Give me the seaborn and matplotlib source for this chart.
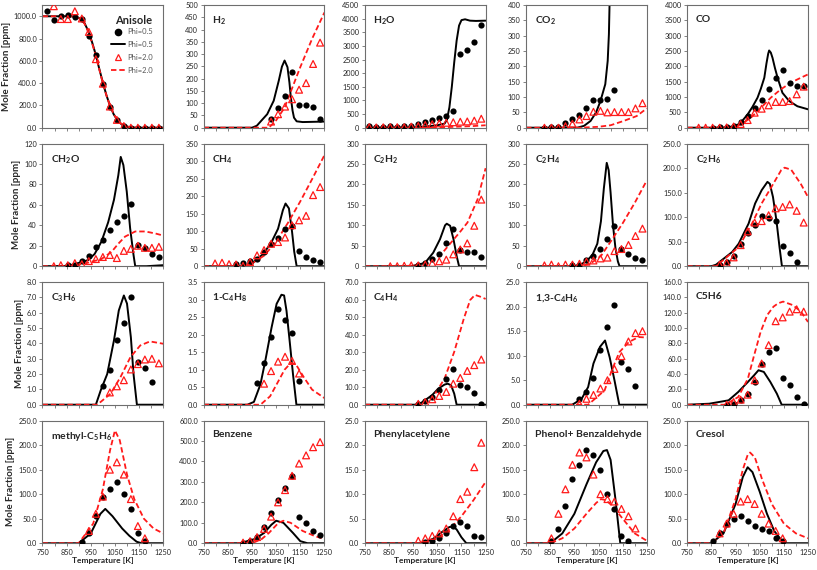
import numpy as np
import pandas as pd
import matplotlib
matplotlib.use("Agg")
import matplotlib.pyplot as plt
import seaborn as sns
from matplotlib.lines import Line2D
from matplotlib.ticker import MultipleLocator, FixedLocator, FormatStrFormatter

N = np.nan

# ── Experimental temperatures (K) ────────────────────────────────────────────
T_EXP = [768, 797, 826, 855, 884, 913, 942, 971, 1000, 1029, 1058, 1087, 1116, 1145, 1174, 1203, 1232]
X_MAJOR = [750, 850, 950, 1050, 1150, 1250]
X_MINOR = [800, 900, 1000, 1100, 1200]

# ── Row 1 ────────────────────────────────────────────────────────────────────
ani_p05 = [1045, 970, 1000, 1015, 995, 980, 820, 655, 395, 190, 70, 15, 0, 0, 0, 0, 0]
ani_p20 = [N, 1090, 975, 975, 1045, 980, 860, 615, 395, 190, 70, 15, 0, 0, 0, 0, 0]
ani_T05 = [750, 870, 895, 910, 925, 940, 955, 970, 985, 1000, 1015, 1030, 1045, 1060, 1075, 1090, 1110, 1130, 1160, 1250]
ani_m05 = [1000, 1000, 990, 975, 935, 865, 770, 660, 530, 405, 290, 195, 120, 68, 35, 15, 5, 1, 0, 0]
ani_T20 = [750, 870, 895, 910, 925, 940, 955, 970, 985, 1000, 1015, 1030, 1045, 1060, 1075, 1090, 1110, 1130, 1160, 1250]
ani_m20 = [1000, 1000, 990, 972, 930, 858, 762, 652, 525, 400, 288, 195, 122, 70, 37, 17, 6, 1, 0, 0]

h2_p05 = [N, N, N, N, N, N, N, N, N, 34, 82, 130, 229, 92, 92, 86, 34]
h2_p20 = [N, N, N, N, N, N, N, N, N, 25, 55, 86, 116, 155, 182, 260, 347]
h2_T05 = [750, 950, 970, 990, 1013, 1040, 1061, 1074, 1085, 1097, 1105, 1111, 1118, 1124, 1135, 1160, 1250]
h2_m05 = [0, 0, 8, 30, 55, 110, 192, 249, 274, 247, 185, 123, 70, 41, 26, 23, 25]
h2_T20 = [750, 1020, 1050, 1085, 1150, 1200, 1250]
h2_m20 = [0, 0, 30, 82, 247, 365, 470]

h2o_p05 = [60, 30, 40, 45, 35, 60, 70, 150, 220, 300, 345, 430, 615, 2710, 2860, 3145, 3785]
h2o_p20 = [20, 10, 15, 20, 20, 20, 40, 60, 100, 130, 160, 180, 200, 220, 230, 260, 330]
h2o_T05 = [750, 950, 1000, 1050, 1080, 1090, 1100, 1110, 1120, 1130, 1140, 1150, 1165, 1185, 1210, 1250]
h2o_m05 = [0, 10, 40, 90, 150, 300, 750, 1500, 2400, 3200, 3750, 3950, 3980, 3930, 3920, 3930]
h2o_T20 = [750, 1000, 1100, 1200, 1250]
h2o_m20 = [0, 5, 25, 60, 90]

co2_p05 = [N, N, 0, 2, 2, 14, 27, 40, 65, 89, 92, 95, 122, N, N, N, N]
co2_p20 = [N, N, 0, 0, 0, 5, 13, 27, 38, 52, 55, 50, 51, 51, 51, 63, 80]
co2_T05 = [750, 962, 990, 1017, 1040, 1058, 1078, 1088, 1093, 1096, 1098]
co2_m05 = [0, 0, 6, 22, 50, 87, 142, 218, 305, 414, 600]
co2_T20 = [750, 980, 1000, 1050, 1100, 1154, 1208, 1250]
co2_m20 = [0, 0, 1, 3, 8, 22, 38, 63]

co_p05 = [N, N, N, 5, 10, 25, 70, 170, 380, 630, 900, 1270, 1620, 1870, 1470, 1370, 1350]
co_p20 = [N, 0, 0, 0, 0, 10, 40, 120, 250, 490, 620, 730, 840, 840, 870, 1090, 1340]
co_T05 = [750, 900, 940, 968, 1000, 1020, 1041, 1055, 1069, 1078, 1085, 1089, 1096, 1103, 1113, 1124, 1144, 1172, 1206, 1250]
co_m05 = [0, 0, 40, 130, 435, 680, 980, 1280, 1630, 2100, 2410, 2520, 2450, 2280, 1950, 1630, 1140, 870, 700, 600]
co_T20 = [750, 940, 972, 1014, 1055, 1096, 1137, 1179, 1220, 1250]
co_m20 = [0, 0, 100, 330, 650, 980, 1250, 1470, 1630, 1740]

# ── Row 2 ────────────────────────────────────────────────────────────────────
ch2o_p05 = [N, N, N, 1, 1, 5, 10, 19, 26, 35, 43, 49, 61, 21, 18, 12, 9]
ch2o_p20 = [N, 0, 1, 1, 3, 2, 5, 7, 9, 11, 8, 15, 17, 20, 18, 18, 19]
ch2o_T05 = [750, 855, 897, 939, 966, 994, 1022, 1046, 1064, 1074, 1085, 1099, 1113, 1127, 1134, 1180, 1250]
ch2o_m05 = [0, 0.3, 3, 6, 12, 24, 43, 65, 89, 107, 99, 73, 37, 11, 0, 0, 1]
ch2o_T20 = [750, 855, 925, 994, 1036, 1064, 1092, 1134, 1176, 1218, 1250]
ch2o_m20 = [0, 0, 2.6, 7, 14, 22, 29, 34, 34, 32, 30]

ch4_p05 = [N, N, N, N, 6, 8, 15, 20, 40, 62, 80, 105, 115, 44, 25, 17, 12]
ch4_p20 = [N, 8, 10, 6, 5, 1, 12, 31, 46, 64, 69, 82, 117, 131, 144, 203, 226]
ch4_T05 = [750, 940, 958, 998, 1031, 1058, 1078, 1089, 1103, 1116, 1125, 1135, 1250]
ch4_m05 = [0, 0, 12, 36, 69, 107, 160, 179, 165, 98, 41, 0, 0]
ch4_T20 = [750, 917, 950, 1000, 1050, 1100, 1150, 1200, 1250]
ch4_m20 = [0, 0, 8, 30, 70, 125, 185, 250, 317]

c2h2_p05 = [N, N, N, N, N, N, N, 2, 8, 18, 29, 56, 92, 39, 35, 34, 23]
c2h2_p20 = [N, N, N, 0, 0, 1, 2, 2, 4, 8, 12, 16, 29, 41, 56, 99, 163]
c2h2_T05 = [750, 940, 957, 999, 1033, 1061, 1082, 1089, 1103, 1117, 1130, 1140, 1250]
c2h2_m05 = [0, 0, 2, 8, 33, 66, 100, 104, 99, 66, 25, 0, 0]
c2h2_T20 = [750, 903, 960, 1010, 1066, 1107, 1147, 1175, 1217, 1250]
c2h2_m20 = [0, 0, 2, 8, 29, 58, 86, 107, 164, 240]

c2h4_p05 = [N, N, N, N, N, N, 2, 4, 14, 25, 41, 66, 98, 41, 30, 20, 15]
c2h4_p20 = [N, N, 2, 4, 0, 4, 4, 6, 11, 14, 19, 21, 37, 42, 52, 74, 92]
c2h4_T05 = [750, 950, 975, 1000, 1025, 1045, 1060, 1072, 1084, 1092, 1100, 1110, 1120, 1130, 1137, 1250]
c2h4_m05 = [0, 0, 4, 12, 28, 55, 110, 190, 253, 235, 180, 100, 45, 12, 0, 0]
c2h4_T20 = [750, 980, 1020, 1060, 1100, 1150, 1200, 1250]
c2h4_m20 = [0, 0, 8, 25, 60, 105, 155, 210]

c2h6_p05 = [N, N, N, N, 3, 9, 21, 45, 67, 84, 103, 99, 92, 41, 26, 9, N]
c2h6_p20 = [N, N, N, N, 3, 7, 18, 43, 71, 89, 92, 104, 118, 121, 126, 113, 89]
c2h6_T05 = [750, 850, 869, 936, 963, 1004, 1031, 1058, 1082, 1092, 1105, 1119, 1132, 1142, 1250]
c2h6_m05 = [0, 0, 3, 29, 46, 87, 128, 155, 172, 168, 141, 94, 39, 0, 0]
c2h6_T20 = [750, 869, 963, 1018, 1058, 1099, 1139, 1153, 1180, 1220, 1250]
c2h6_m20 = [0, 0, 39, 87, 128, 162, 196, 201, 197, 168, 141]

# ── Row 3 ────────────────────────────────────────────────────────────────────
c3h6_p05 = [N, N, N, N, N, N, N, N, 1.2, 2.25, 4.2, 5.35, 7.05, 2.8, 2.4, 1.5, N]
c3h6_p20 = [N, N, N, N, N, N, N, N, N, 0.8, 1.2, 1.6, 2.3, 2.65, 2.95, 3.0, 2.7]
c3h6_T05 = [750, 971, 991, 1018, 1046, 1066, 1087, 1100, 1116, 1127, 1141, 1250]
c3h6_m05 = [0, 0, 0.93, 2.0, 4.2, 6.15, 7.13, 6.6, 4.4, 2.0, 0, 0]
c3h6_T20 = [750, 977, 1032, 1073, 1114, 1155, 1195, 1250]
c3h6_m20 = [0, 0, 0.72, 1.8, 3.1, 3.87, 4.13, 3.98]

c4h8_p05 = [N, N, N, N, N, N, N, 0.62, 1.2, 1.92, 2.73, 2.42, 2.04, 0.67, N, N, N]
c4h8_p20 = [N, N, N, N, N, N, N, N, 0.6, 0.96, 1.23, 1.37, 1.25, 0.89, N, N, N]
c4h8_T05 = [750, 931, 958, 985, 1005, 1031, 1052, 1072, 1083, 1093, 1106, 1120, 1134, 1250]
c4h8_m05 = [0, 0, 0.08, 0.58, 1.25, 2.2, 2.88, 3.14, 3.12, 2.68, 1.82, 0.86, 0, 0]
c4h8_T20 = [750, 985, 1025, 1052, 1085, 1112, 1132, 1166, 1199, 1250]
c4h8_m20 = [0, 0, 0.24, 0.58, 1.0, 1.2, 1.15, 0.77, 0.43, 0.19]

c4h4_p05 = [N, N, N, N, N, N, N, 0.5, 1.9, 4.4, 8.6, 14.5, 20.6, 11.1, 10.1, 6.9, 0.6]
c4h4_p20 = [N, N, N, N, N, N, N, 0.5, 1.5, 3.1, 5.0, 7.3, 12.0, 15.3, 19.3, 22.6, 25.8]
c4h4_T05 = [750, 970, 988, 1028, 1054, 1080, 1093, 1107, 1120, 1130, 1250]
c4h4_m05 = [0, 0, 1.5, 5.4, 9.2, 11.5, 12.0, 11.1, 6.3, 0, 0]
c4h4_T20 = [750, 975, 1028, 1080, 1120, 1160, 1186, 1206, 1226, 1250]
c4h4_m20 = [0, 0, 3.4, 14.9, 30.2, 49.3, 59.8, 62.7, 61.8, 60.4]

c4h6_p05 = [N, N, N, N, N, N, N, 1.1, 2.6, 5.4, 11.1, 15.8, 20.4, 8.7, 7.3, 3.8, N]
c4h6_p20 = [N, N, N, N, N, N, N, 0.2, 1.2, 2.0, 3.3, 5.0, 7.3, 9.9, 12.9, 14.6, 15.0]
c4h6_T05 = [750, 940, 948, 980, 1007, 1029, 1056, 1077, 1096, 1116, 1136, 1250]
c4h6_m05 = [0, 0, 0.2, 1.2, 3.6, 8.4, 11.8, 13.1, 9.7, 5.0, 0, 0]
c4h6_T20 = [750, 1007, 1035, 1075, 1105, 1136, 1176, 1216, 1250]
c4h6_m20 = [0, 0, 1.2, 2.9, 7.0, 10.7, 12.8, 13.8, 13.7]

c5h6_p05 = [N, N, N, N, N, 0, 1.3, 5.7, 14.4, 29.7, 52.5, 68.2, 73.4, 35.4, 25.4, 10, 1.3]
c5h6_p20 = [N, N, N, N, N, 0, 3.5, 6.6, 13.1, 31.9, 53.8, 77.8, 109, 114, 121.5, 124.6, 121.5]
c5h6_T05 = [750, 841, 921, 961, 1001, 1027, 1045, 1067, 1094, 1121, 1141, 1250]
c5h6_m05 = [0, 1.3, 5.7, 16.6, 29.7, 38.5, 45, 42.8, 29.7, 14.4, 0, 0]
c5h6_T20 = [750, 907, 961, 1001, 1027, 1054, 1081, 1107, 1127, 1147, 1187, 1221, 1250]
c5h6_m20 = [0, 0, 10, 34, 64.7, 95.3, 117, 128, 132.5, 134.6, 130, 121.5, 108]

# ── Row 4 ────────────────────────────────────────────────────────────────────
mc5_p05 = [N, N, N, N, N, 2, 20, 55, 95, 110, 125, 100, 70, 20, 5, N, N]
mc5_p20 = [N, N, N, N, N, N, 25, 60, 95, 150, 165, 140, 90, 35, 10, N, N]
mc5_T05 = [750, 900, 950, 990, 1010, 1040, 1080, 1110, 1140, 1160, 1250]
mc5_m05 = [0, 0, 20, 60, 70, 55, 30, 15, 3, 0, 0]
mc5_T20 = [750, 900, 960, 1000, 1030, 1050, 1070, 1100, 1130, 1170, 1210, 1250]
mc5_m20 = [0, 0, 40, 110, 190, 230, 210, 140, 90, 50, 30, 20]

bz_p05 = [N, N, N, N, N, 3, 10, 30, 80, 150, 210, 270, 330, 130, 100, 60, 40]
bz_p20 = [N, N, N, N, N, 3, 10, 30, 70, 130, 200, 260, 330, 390, 430, 470, 495]
bz_T05 = [750, 900, 960, 1000, 1030, 1050, 1080, 1120, 1150, 1180, 1250]
bz_m05 = [0, 0, 20, 50, 90, 110, 100, 50, 10, 0, 0]
bz_T20 = [750, 950, 990, 1020, 1060, 1080, 1110, 1160, 1210, 1250]
bz_m20 = [0, 0, 20, 50, 100, 110, 100, 60, 35, 20]

pa_p05 = [N, N, N, N, N, N, N, N, 0.3, 0.5, 1.0, 2.0, 3.5, 4.3, 3.5, 1.5, 1.3]
pa_p20 = [N, N, N, N, N, N, N, 0.5, 1.0, 1.5, 2.0, 3.0, 5.5, 9.0, 10.5, 15.5, 20.5]
pa_T05 = [750, 980, 1030, 1070, 1100, 1115, 1130, 1150, 1170, 1250]
pa_m05 = [0, 0, 0.8, 2.3, 3.3, 3.4, 2.8, 1.2, 0, 0]
pa_T20 = [750, 1000, 1050, 1100, 1150, 1200, 1250]
pa_m20 = [0, 0, 1.0, 2.8, 5.5, 8.8, 12.5]

pb_p05 = [N, N, N, 5, 30, 75, 130, 160, 190, 180, 150, 100, 70, 15, 5, N, N]
pb_p20 = [N, N, N, 10, 60, 110, 160, 185, 175, 140, 100, 90, 85, 70, 55, 30, N]
pb_T05 = [750, 850, 900, 950, 1000, 1040, 1070, 1085, 1100, 1120, 1140, 1250]
pb_m05 = [0, 0, 20, 60, 120, 165, 188, 190, 170, 90, 0, 0]
pb_T20 = [750, 850, 900, 950, 1000, 1040, 1060, 1080, 1110, 1150, 1200, 1250]
pb_m20 = [0, 0, 10, 30, 60, 82, 90, 88, 75, 50, 20, 5]

cr_p05 = [N, N, N, 5, 20, 40, 50, 55, 45, 35, 30, 25, 10, 5, N, N, N]
cr_p20 = [N, N, N, N, 20, 40, 60, 85, 90, 80, 60, 40, 25, 10, N, N, N]
cr_T05 = [750, 850, 900, 950, 980, 1000, 1020, 1050, 1080, 1110, 1150, 1250]
cr_m05 = [0, 0, 20, 80, 135, 155, 145, 105, 60, 25, 0, 0]
cr_T20 = [750, 850, 900, 950, 980, 1000, 1010, 1030, 1060, 1100, 1150, 1200, 1250]
cr_m20 = [0, 0, 20, 90, 150, 180, 185, 175, 130, 80, 40, 20, 10]

# ── Panel definitions: (title, exp05, exp20, T05, m05, T20, m20, ymax, ystep, fmt) ──
PANELS = [
    ("Anisole", ani_p05, ani_p20, ani_T05, ani_m05, ani_T20, ani_m20, 1100, 200, "%.1f"),
    ("H$_2$", h2_p05, h2_p20, h2_T05, h2_m05, h2_T20, h2_m20, 500, 50, "%d"),
    ("H$_2$O", h2o_p05, h2o_p20, h2o_T05, h2o_m05, h2o_T20, h2o_m20, 4500, 500, "%d"),
    ("CO$_2$", co2_p05, co2_p20, co2_T05, co2_m05, co2_T20, co2_m20, 400, 50, "%d"),
    ("CO", co_p05, co_p20, co_T05, co_m05, co_T20, co_m20, 4000, 500, "%d"),
    ("CH$_2$O", ch2o_p05, ch2o_p20, ch2o_T05, ch2o_m05, ch2o_T20, ch2o_m20, 120, 20, "%d"),
    ("CH$_4$", ch4_p05, ch4_p20, ch4_T05, ch4_m05, ch4_T20, ch4_m20, 350, 50, "%d"),
    ("C$_2$H$_2$", c2h2_p05, c2h2_p20, c2h2_T05, c2h2_m05, c2h2_T20, c2h2_m20, 300, 50, "%d"),
    ("C$_2$H$_4$", c2h4_p05, c2h4_p20, c2h4_T05, c2h4_m05, c2h4_T20, c2h4_m20, 300, 50, "%d"),
    ("C$_2$H$_6$", c2h6_p05, c2h6_p20, c2h6_T05, c2h6_m05, c2h6_T20, c2h6_m20, 250, 50, "%.1f"),
    ("C$_3$H$_6$", c3h6_p05, c3h6_p20, c3h6_T05, c3h6_m05, c3h6_T20, c3h6_m20, 8, 1, "%.1f"),
    ("1-C$_4$H$_8$", c4h8_p05, c4h8_p20, c4h8_T05, c4h8_m05, c4h8_T20, c4h8_m20, 3.5, 0.5, "%.1f"),
    ("C$_4$H$_4$", c4h4_p05, c4h4_p20, c4h4_T05, c4h4_m05, c4h4_T20, c4h4_m20, 70, 10, "%.1f"),
    ("1,3-C$_4$H$_6$", c4h6_p05, c4h6_p20, c4h6_T05, c4h6_m05, c4h6_T20, c4h6_m20, 25, 5, "%.1f"),
    ("C5H6", c5h6_p05, c5h6_p20, c5h6_T05, c5h6_m05, c5h6_T20, c5h6_m20, 160, 20, "%.1f"),
    ("methyl-C$_5$H$_6$", mc5_p05, mc5_p20, mc5_T05, mc5_m05, mc5_T20, mc5_m20, 250, 50, "%.1f"),
    ("Benzene", bz_p05, bz_p20, bz_T05, bz_m05, bz_T20, bz_m20, 600, 100, "%.1f"),
    ("Phenylacetylene", pa_p05, pa_p20, pa_T05, pa_m05, pa_T20, pa_m20, 25, 5, "%.1f"),
    ("Phenol+ Benzaldehyde", pb_p05, pb_p20, pb_T05, pb_m05, pb_T20, pb_m20, 250, 50, "%.1f"),
    ("Cresol", cr_p05, cr_p20, cr_T05, cr_m05, cr_T20, cr_m20, 250, 50, "%.1f"),
]

# ── Style ────────────────────────────────────────────────────────────────────
sns.set_style("ticks")
plt.rcParams["font.family"] = ["Lato", "DejaVu Sans"]
plt.rcParams["mathtext.fontset"] = "custom"
plt.rcParams["mathtext.rm"] = "Lato:bold"
plt.rcParams["mathtext.it"] = "Lato:bold"
plt.rcParams["mathtext.bf"] = "Lato:bold"

RED = "#ff1a1a"
SPINE = "#6e6e6e"

fig, axes = plt.subplots(4, 5, figsize=(8.17, 5.70), dpi=100)
fig.subplots_adjust(left=0.052, right=0.989, top=0.991, bottom=0.047,
                    wspace=0.335, hspace=0.13)

for k, (title, p05, p20, T05, m05, T20, m20, ymax, ystep, fmt) in enumerate(PANELS):
    ax = axes.flat[k]
    row, col = divmod(k, 5)

    exp = pd.DataFrame({"T": T_EXP, "phi05": p05, "phi20": p20})
    sns.lineplot(x=T05, y=m05, ax=ax, color="black", lw=1.4,
                 estimator=None, sort=False, zorder=2)
    sns.lineplot(x=T20, y=m20, ax=ax, color=RED, lw=1.3, ls=(0, (3, 1.6)),
                 estimator=None, sort=False, zorder=2)
    sns.scatterplot(data=exp, x="T", y="phi05", ax=ax, color="black", marker="o",
                    s=20, linewidth=0, zorder=3)
    sns.scatterplot(data=exp, x="T", y="phi20", ax=ax, marker="^", s=24,
                    facecolor="none", edgecolor=RED, linewidth=0.9, zorder=4)

    ax.set_xlim(750, 1250)
    ax.set_ylim(0, ymax)
    ax.xaxis.set_major_locator(FixedLocator(X_MAJOR))
    ax.xaxis.set_minor_locator(FixedLocator(X_MINOR))
    ax.yaxis.set_major_locator(MultipleLocator(ystep))
    ax.yaxis.set_major_formatter(FormatStrFormatter(fmt))
    ax.tick_params(axis="both", which="major", direction="out", length=2.5,
                   width=0.6, labelsize=5.3, pad=1.5, color=SPINE)
    ax.tick_params(axis="both", which="minor", direction="out", length=2.5,
                   width=0.6, color=SPINE)
    ax.set_xlabel("")
    ax.set_ylabel("")
    if row < 3:
        ax.tick_params(axis="x", labelbottom=False)
    else:
        ax.set_xlabel("Temperature [K]", fontsize=6, fontweight="bold", labelpad=1)
    if col == 0:
        ax.set_ylabel("Mole Fraction [ppm]", fontsize=7, fontweight="bold", labelpad=2)
    for sp in ax.spines.values():
        sp.set_visible(True)
        sp.set_color(SPINE)
        sp.set_linewidth(0.8)

    if k == 0:
        ax.text(0.6, 0.92, title, transform=ax.transAxes, fontsize=8,
                fontweight="bold", va="top", ha="left")
        handles = [
            Line2D([], [], color="black", marker="o", ls="none", markersize=4.5),
            Line2D([], [], color="black", lw=1.4),
            Line2D([], [], color=RED, marker="^", ls="none", markersize=4.5,
                   markerfacecolor="none", markeredgewidth=0.9),
            Line2D([], [], color=RED, lw=1.3, ls=(0, (3, 1.6))),
        ]
        leg = ax.legend(handles, ["Phi=0.5", "Phi=0.5", "Phi=2.0", "Phi=2.0"],
                        loc="upper left", bbox_to_anchor=(0.57, 0.81), frameon=False,
                        fontsize=5.5, handlelength=1.8, handletextpad=0.3,
                        labelspacing=0.75, borderpad=0, borderaxespad=0)
        for t in leg.get_texts():
            t.set_color("#595959")
    else:
        ax.text(0.07, 0.92, title, transform=ax.transAxes, fontsize=7.5,
                fontweight="bold", va="top", ha="left")

plt.savefig("out.png", dpi=100)
